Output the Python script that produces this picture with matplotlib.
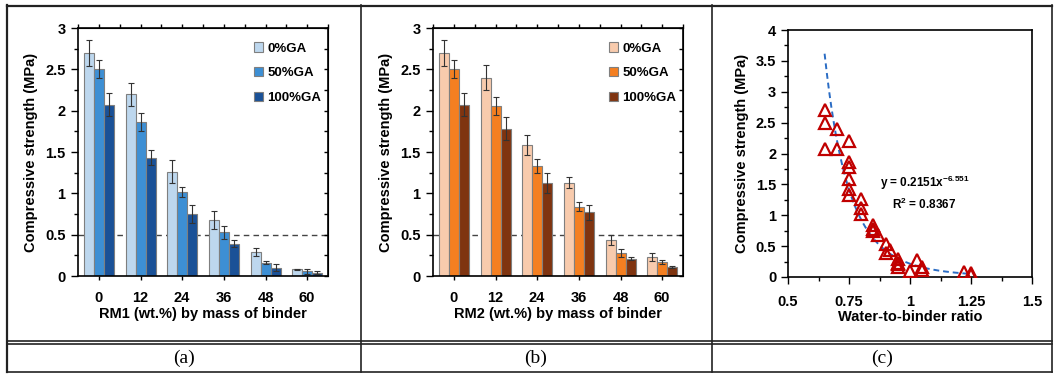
import numpy as np
import matplotlib
matplotlib.use("Agg")
import matplotlib.pyplot as plt
from matplotlib.lines import Line2D
from matplotlib.ticker import MultipleLocator, FormatStrFormatter

plt.rcParams["font.family"] = ["Liberation Sans", "DejaVu Sans"]
plt.rcParams["font.weight"] = "bold"

W, H = 1058, 375

# ---- data -------------------------------------------------------------
rm_levels = ["0", "12", "24", "36", "48", "60"]
ga_labels = ["0%GA", "50%GA", "100%GA"]

rm1_ga0 = [2.70, 2.20, 1.26, 0.68, 0.29, 0.08]
rm1_ga50 = [2.50, 1.86, 1.02, 0.53, 0.16, 0.06]
rm1_ga100 = [2.07, 1.43, 0.75, 0.39, 0.10, 0.04]
rm1_err0 = [0.16, 0.14, 0.14, 0.11, 0.05, 0.01]
rm1_err50 = [0.11, 0.11, 0.06, 0.08, 0.02, 0.03]
rm1_err100 = [0.14, 0.09, 0.11, 0.04, 0.04, 0.02]

rm2_ga0 = [2.70, 2.40, 1.58, 1.13, 0.43, 0.23]
rm2_ga50 = [2.50, 2.06, 1.33, 0.84, 0.28, 0.17]
rm2_ga100 = [2.07, 1.78, 1.12, 0.77, 0.21, 0.11]
rm2_err0 = [0.16, 0.15, 0.12, 0.07, 0.06, 0.05]
rm2_err50 = [0.11, 0.11, 0.09, 0.05, 0.05, 0.02]
rm2_err100 = [0.14, 0.14, 0.12, 0.09, 0.02, 0.01]

wb_ratio = [0.65, 0.65, 0.65, 0.70, 0.70, 0.75, 0.75, 0.75, 0.75, 0.75,
            0.75, 0.80, 0.80, 0.80, 0.85, 0.85, 0.85, 0.87, 0.90, 0.90,
            0.92, 0.95, 0.95, 0.95, 0.95, 1.00, 1.03, 1.05, 1.05, 1.22,
            1.25, 1.25]
strength = [2.70, 2.50, 2.07, 2.40, 2.07, 2.20, 1.86, 1.78, 1.58, 1.43,
            1.33, 1.26, 1.12, 1.02, 0.84, 0.77, 0.75, 0.68, 0.53, 0.39,
            0.43, 0.29, 0.21, 0.16, 0.23, 0.10, 0.28, 0.17, 0.11, 0.08,
            0.06, 0.04]
# power-law trendline shown on the chart: y = a * x^b
fit_a, fit_b = 0.2151, -6.551
fit_xmin, fit_xmax = 0.65, 1.25

blues = ["#bdd7ee", "#3d8fd4", "#1a5197"]
oranges = ["#f8cbad", "#f47f21", "#7f3410"]

FS = 10.5


def px_axes(fig, left, right, top, bottom):
    return fig.add_axes([left / W, 1 - bottom / H, (right - left) / W,
                         (bottom - top) / H])


def bar_panel(ax, series, errs, colors, xlabel):
    x = np.arange(len(rm_levels))
    bw = 0.24
    for i, (vals, err, c, lab) in enumerate(zip(series, errs, colors,
                                                ga_labels)):
        ax.bar(x + (i - 1) * bw, vals, bw, color=c, edgecolor="#7f7f7f",
               linewidth=0.8, label=lab, yerr=err,
               error_kw=dict(ecolor="#333333", elinewidth=0.8, capsize=2,
                             capthick=0.8))
    ax.axhline(0.5, color="#444444", linestyle=(0, (4, 3)), linewidth=1.0,
               zorder=0)
    ax.set_xlim(-0.5, 5.5)
    ax.set_ylim(0, 3)
    ax.set_xticks(x)
    ax.set_xticklabels(rm_levels)
    ax.yaxis.set_major_locator(MultipleLocator(0.5))
    ax.yaxis.set_minor_locator(MultipleLocator(0.25))
    ax.yaxis.set_major_formatter(FormatStrFormatter("%g"))
    ax.tick_params(axis="x", direction="out", length=3, width=1,
                   labelsize=FS, pad=8)
    ax.tick_params(axis="y", which="major", direction="out", length=5,
                   width=1, labelsize=FS, pad=4)
    ax.tick_params(axis="y", which="minor", direction="out", length=3,
                   width=1)
    for s in ax.spines.values():
        s.set_linewidth(1.2)
    top = ax.secondary_xaxis("top")
    top.set_xticks(np.arange(-0.5, 5.6, 0.5))
    top.tick_params(direction="out", length=3, width=1, labeltop=False)
    right = ax.secondary_yaxis("right")
    right.set_yticks(np.arange(0, 3.01, 0.25))
    right.tick_params(direction="in", length=3, width=1, labelright=False)
    ax.set_ylabel("Compressive strength (MPa)", fontsize=FS,
                  fontweight="heavy", labelpad=5)
    ax.set_xlabel(xlabel, fontsize=FS, fontweight="bold", labelpad=1)
    leg = ax.legend(loc="upper right", bbox_to_anchor=(1.02, 0.99),
                    frameon=False, fontsize=9.5, labelspacing=0.95,
                    handlelength=0.7, handleheight=0.7, handletextpad=0.3)
    for t in leg.get_texts():
        t.set_fontweight("bold")


fig = plt.figure(figsize=(W / 100, H / 100), dpi=100)

ax_a = px_axes(fig, 78, 328, 28, 276)
bar_panel(ax_a, [rm1_ga0, rm1_ga50, rm1_ga100],
          [rm1_err0, rm1_err50, rm1_err100], blues,
          "RM1 (wt.%) by mass of binder")

ax_b = px_axes(fig, 433, 683, 28, 276)
bar_panel(ax_b, [rm2_ga0, rm2_ga50, rm2_ga100],
          [rm2_err0, rm2_err50, rm2_err100], oranges,
          "RM2 (wt.%) by mass of binder")

# ---- panel (c) --------------------------------------------------------
ax_c = px_axes(fig, 788, 1032, 30, 277)
xf = np.linspace(fit_xmin, fit_xmax, 200)
ax_c.plot(xf, fit_a * xf ** fit_b, color="#2a6cc4", linestyle=(0, (3, 2)),
          linewidth=1.4, zorder=2)
ax_c.plot(wb_ratio, strength, linestyle="none", marker="^",
          markersize=8.5, markerfacecolor="none", markeredgecolor="#c00000",
          markeredgewidth=1.6, zorder=3)
ax_c.set_xlim(0.5, 1.5)
ax_c.set_ylim(0, 4)
ax_c.xaxis.set_major_locator(MultipleLocator(0.25))
ax_c.xaxis.set_minor_locator(MultipleLocator(0.125))
ax_c.yaxis.set_major_locator(MultipleLocator(0.5))
ax_c.yaxis.set_minor_locator(MultipleLocator(0.25))
ax_c.xaxis.set_major_formatter(FormatStrFormatter("%g"))
ax_c.yaxis.set_major_formatter(FormatStrFormatter("%g"))
ax_c.tick_params(which="major", direction="out", length=5, width=1,
                 labelsize=FS)
ax_c.tick_params(which="minor", direction="out", length=3, width=1)
ax_c.tick_params(axis="x", pad=8)
for s in ax_c.spines.values():
    s.set_linewidth(1.2)
ax_c.set_ylabel("Compressive strength (MPa)", fontsize=FS,
                fontweight="heavy", labelpad=5)
ax_c.set_xlabel("Water-to-binder ratio", fontsize=FS, fontweight="bold",
                labelpad=1)
ax_c.text(1.06, 1.52, "y = 0.2151x$^{\\mathregular{-6.551}}$", ha="center",
          va="center", fontsize=8.5, fontweight="semibold")
ax_c.text(1.06, 1.18, "R$^{\\mathregular{2}}$ = 0.8367", ha="center",
          va="center", fontsize=8.5, fontweight="semibold")

# ---- table frame and captions ----------------------------------------
def hline(y, x0=7, x1=1052, lw=1.2):
    fig.add_artist(Line2D([x0 / W, x1 / W], [1 - y / H, 1 - y / H],
                          color="#222222", linewidth=lw))


def vline(x, y0=5, y1=372, lw=1.2):
    fig.add_artist(Line2D([x / W, x / W], [1 - y0 / H, 1 - y1 / H],
                          color="#222222", linewidth=lw))


hline(5.5, lw=1.6)
hline(372)
hline(341)
hline(344)
vline(7, lw=1.6)
vline(1052)
vline(361)
vline(712)

for cx, lab in [(184, "(a)"), (536, "(b)"), (882, "(c)")]:
    fig.text(cx / W, 1 - 358 / H, lab, ha="center", va="center",
             fontsize=14, fontweight="normal", family="Liberation Serif")

fig.savefig("out.png", dpi=100)
